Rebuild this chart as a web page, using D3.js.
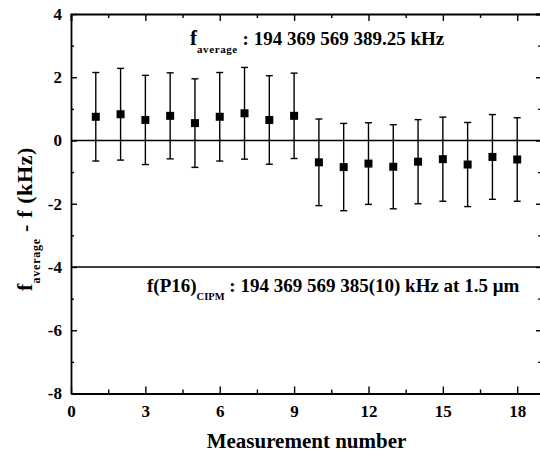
<!DOCTYPE html>
<html lang="en">

<head>
    <meta charset="UTF-8">
    <title>frequency deviation</title>
    <script src="https://d3js.org/d3.v7.min.js"></script>
    <style>
        body { margin: 0; background: #fff; }
        svg text { font-family: "Liberation Serif", "Times New Roman", serif; font-weight: bold; fill: #000; }
    </style>
</head>

<body>
    <svg id="chart" width="540" height="456"></svg>

    <script>
        // data
        const measurement = [1, 2, 3, 4, 5, 6, 7, 8, 9, 10, 11, 12, 13, 14, 15, 16, 17, 18];
        const deviation = [0.75, 0.83, 0.65, 0.78, 0.55, 0.75, 0.86, 0.65, 0.78,
            -0.69, -0.84, -0.73, -0.83, -0.67, -0.59, -0.76, -0.52, -0.60];
        const uncertainty = [1.40, 1.45, 1.41, 1.36, 1.40, 1.40, 1.45, 1.40, 1.35,
            1.37, 1.38, 1.29, 1.33, 1.33, 1.33, 1.33, 1.34, 1.32];
        const refLines = [0, -4];
        const xTicks = [0, 3, 6, 9, 12, 15, 18];
        const xMinor = [1.5, 4.5, 7.5, 10.5, 13.5, 16.5];
        const yTicks = [-8, -6, -4, -2, 0, 2, 4];
        const yMinor = [-7, -5, -3, -1, 1, 3];

        const serif = "'Liberation Serif', 'Times New Roman', serif";
        const svg = d3.select("#chart");
        const margin = { top: 14, right: -2, bottom: 63, left: 71 };
        const width = +svg.attr("width");
        const height = +svg.attr("height");

        const x = d3.scaleLinear().domain([0, 19]).range([margin.left, width - margin.right]);
        const y = d3.scaleLinear().domain([-8, 4]).range([height - margin.bottom + 0.5, margin.top]);

        function styleAxis(g) {
            g.attr("font-family", serif).attr("font-size", 17);
            g.select(".domain").attr("stroke", "#000").attr("stroke-width", 1.8);
            g.selectAll(".tick line").attr("stroke", "#000").attr("stroke-width", 1.4);
            g.selectAll(".tick text").style("font-size", "17px");
        }
        const plain = d => String(d);

        // bottom axis
        svg.append("g")
            .attr("transform", `translate(0,${y(-8)})`)
            .call(d3.axisBottom(x).tickValues(xTicks).tickFormat(plain).tickSizeInner(-7).tickSizeOuter(0).tickPadding(11))
            .call(styleAxis);
        svg.append("g")
            .attr("transform", `translate(0,${y(-8)})`)
            .call(d3.axisBottom(x).tickValues(xMinor).tickSize(-4).tickFormat(""))
            .call(g => g.select(".domain").remove())
            .call(styleAxis);

        // top axis
        svg.append("g")
            .attr("transform", `translate(0,${y(4)})`)
            .call(d3.axisTop(x).tickValues(xTicks).tickSize(-7).tickFormat(""))
            .call(styleAxis);
        svg.append("g")
            .attr("transform", `translate(0,${y(4)})`)
            .call(d3.axisTop(x).tickValues(xMinor).tickSize(-4).tickFormat(""))
            .call(g => g.select(".domain").remove())
            .call(styleAxis);

        // left axis
        svg.append("g")
            .attr("transform", `translate(${x(0)},0)`)
            .call(d3.axisLeft(y).tickValues(yTicks).tickFormat(plain).tickSizeInner(-6).tickSizeOuter(0).tickPadding(9))
            .call(styleAxis);
        svg.append("g")
            .attr("transform", `translate(${x(0)},0)`)
            .call(d3.axisLeft(y).tickValues(yMinor).tickSize(-3).tickFormat(""))
            .call(g => g.select(".domain").remove())
            .call(styleAxis);

        // right axis (mostly off the edge)
        svg.append("g")
            .attr("transform", `translate(${x(19)},0)`)
            .call(d3.axisRight(y).tickValues(yTicks).tickSize(-6).tickFormat(""))
            .call(styleAxis);
        svg.append("g")
            .attr("transform", `translate(${x(19)},0)`)
            .call(d3.axisRight(y).tickValues(yMinor).tickSize(-4).tickFormat(""))
            .call(g => g.select(".domain").remove())
            .call(styleAxis);

        // reference lines
        svg.selectAll("line.ref").data(refLines)
            .join("line")
            .attr("class", "ref")
            .attr("x1", x(0))
            .attr("x2", x(19))
            .attr("y1", d => y(d))
            .attr("y2", d => y(d))
            .attr("stroke", "#000")
            .attr("stroke-width", 1.7);

        const points = measurement.map((m, i) => ({ m: m, v: deviation[i], e: uncertainty[i] }));

        // error bars
        const bars = svg.append("g").selectAll("g").data(points).join("g");
        bars.append("line")
            .attr("x1", d => x(d.m)).attr("x2", d => x(d.m))
            .attr("y1", d => y(d.v + d.e)).attr("y2", d => y(d.v - d.e))
            .attr("stroke", "#000").attr("stroke-width", 1.4);
        bars.append("line")
            .attr("x1", d => x(d.m) - 3.5).attr("x2", d => x(d.m) + 3.5)
            .attr("y1", d => y(d.v + d.e)).attr("y2", d => y(d.v + d.e))
            .attr("stroke", "#000").attr("stroke-width", 1.4);
        bars.append("line")
            .attr("x1", d => x(d.m) - 3.5).attr("x2", d => x(d.m) + 3.5)
            .attr("y1", d => y(d.v - d.e)).attr("y2", d => y(d.v - d.e))
            .attr("stroke", "#000").attr("stroke-width", 1.4);

        // square markers
        svg.append("g").selectAll("rect").data(points)
            .join("rect")
            .attr("x", d => x(d.m) - 4)
            .attr("y", d => y(d.v) - 4)
            .attr("width", 8)
            .attr("height", 8)
            .attr("fill", "#000");

        // annotations
        const avgLabel = svg.append("text")
            .attr("x", 190)
            .attr("y", 45)
            .style("font-size", "19px");
        avgLabel.append("tspan").text("f").style("font-size", "21px");
        avgLabel.append("tspan").text("average").attr("dy", 8)
            .style("font-size", "11px").style("letter-spacing", "0.6px");
        avgLabel.append("tspan").text(" : 194 369 569 389.25 kHz").attr("dy", -8);

        const cipmLabel = svg.append("text")
            .attr("x", 147)
            .attr("y", 292)
            .style("font-size", "19px");
        cipmLabel.append("tspan").text("f(P16)");
        cipmLabel.append("tspan").text("CIPM").attr("dy", 8).style("font-size", "10.5px");
        cipmLabel.append("tspan").text(" : 194 369 569 385(10) kHz at 1.5 \u03bcm").attr("dy", -8);

        // axis titles
        svg.append("text")
            .attr("x", (x(0) + x(19)) / 2)
            .attr("y", 448)
            .attr("text-anchor", "middle")
            .style("font-size", "21px")
            .text("Measurement number");

        const yTitle = svg.append("text")
            .attr("transform", "translate(32,219) rotate(-90)")
            .attr("text-anchor", "middle")
            .style("font-size", "22px");
        yTitle.append("tspan").text("f");
        yTitle.append("tspan").text("average").attr("dy", 8)
            .style("font-size", "12px").style("letter-spacing", "0.8px");
        yTitle.append("tspan").text(" - f (kHz)").attr("dy", -8).style("letter-spacing", "0.6px");
    </script>

</body>

</html>
